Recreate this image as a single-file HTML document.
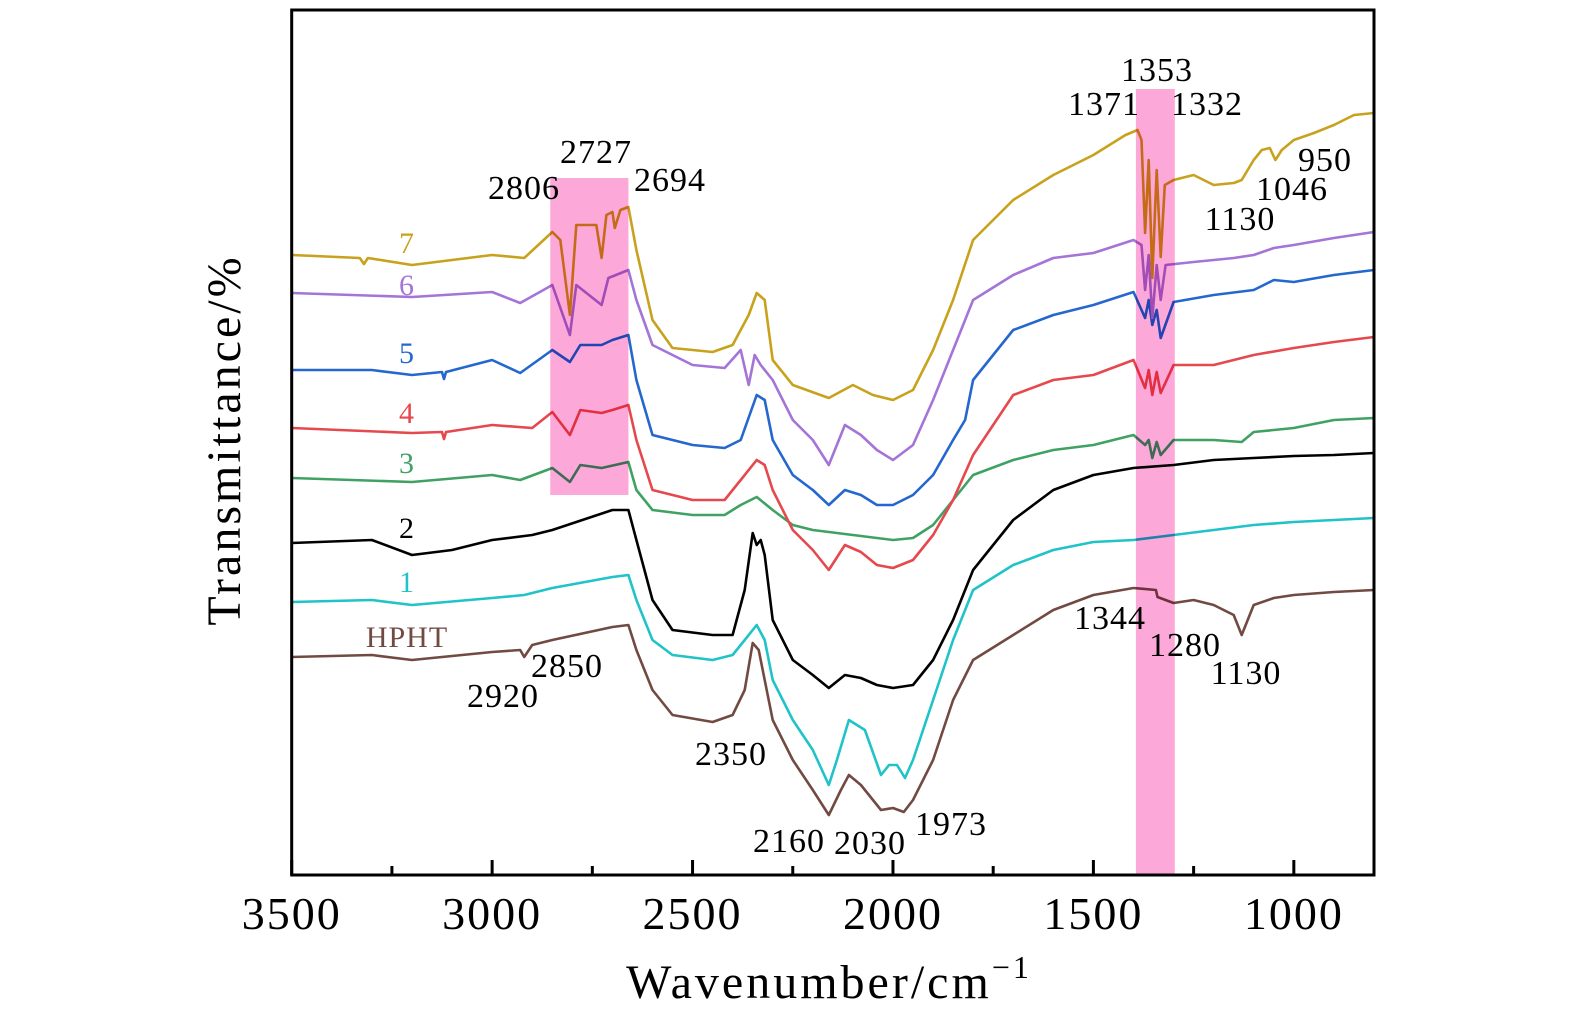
<!DOCTYPE html>
<html><head><meta charset="utf-8"><style>
html,body{margin:0;padding:0;background:#fff;}
svg{display:block;font-family:"Liberation Serif",serif;}
</style></head><body>
<svg id="chart" width="1575" height="1024" viewBox="0 0 1575 1024" xmlns="http://www.w3.org/2000/svg">
<g id="series"></g>
<g id="bands"></g>
<g id="axes"></g>
<g id="labels"></g>
</svg>
<script>
// wavenumber domain and vertical (offset transmittance, arbitrary units, larger = lower on plot)
const xDomain=[3500,800];
const yDomain=[10,875];
const xTicks=[3500,3000,2500,2000,1500,1000];
const xMinorTicks=[3250,2750,2250,1750,1250];
const bandRanges=[[2855,2660,178,495],[1394,1297,89,875]];

const w7=[3500,3330,3320,3310,3200,3000,2920,2850,2830,2806,2790,2740,2727,2715,2700,2694,2680,2660,2640,2600,2550,2450,2400,2360,2340,2320,2300,2250,2160,2100,2050,2000,1950,1900,1850,1800,1700,1600,1500,1420,1390,1380,1371,1362,1353,1342,1332,1322,1300,1250,1200,1150,1130,1100,1080,1060,1046,1030,1000,950,900,850,800];
const v7=[255,258,264,258,265,255,258,232,240,315,225,225,258,215,212,228,210,207,250,320,348,352,345,315,293,300,360,385,398,385,395,400,390,350,300,240,200,175,155,135,130,140,233,160,278,170,257,185,180,175,185,183,180,160,150,148,160,150,140,133,125,115,113];

const w6=[3500,3200,3000,2930,2850,2806,2790,2727,2710,2660,2640,2600,2500,2420,2380,2360,2345,2330,2300,2250,2200,2160,2120,2080,2040,2000,1950,1900,1850,1800,1700,1600,1500,1400,1380,1371,1362,1353,1342,1332,1320,1250,1150,1100,1050,1000,900,800];
const v6=[293,297,292,303,285,335,285,305,278,270,300,345,365,368,350,385,355,365,380,420,440,465,425,435,450,460,445,400,350,300,275,258,253,240,245,290,255,318,265,300,265,262,258,255,248,245,238,232];

const w5=[3500,3300,3200,3125,3120,3115,3000,2930,2850,2806,2780,2727,2700,2660,2640,2600,2500,2420,2380,2340,2320,2300,2250,2200,2160,2120,2080,2040,2000,1950,1900,1850,1820,1800,1700,1600,1500,1400,1371,1362,1353,1342,1332,1300,1200,1100,1050,1000,900,800];
const v5=[370,370,375,372,379,372,360,373,350,362,345,345,340,335,380,435,445,448,440,395,400,440,475,490,505,490,495,505,505,495,475,440,420,380,330,315,305,292,318,300,325,310,338,302,295,290,280,282,275,270];

const w4=[3500,3200,3125,3120,3115,3000,2900,2850,2806,2780,2727,2700,2660,2640,2600,2500,2420,2380,2340,2320,2300,2250,2200,2160,2120,2080,2040,2000,1950,1900,1850,1800,1700,1600,1500,1400,1371,1362,1353,1342,1332,1300,1200,1100,1000,900,800];
const v4=[428,433,432,439,432,425,428,412,435,410,413,410,405,440,490,500,500,480,460,465,490,530,550,570,545,552,565,568,560,535,500,455,395,380,375,360,388,370,395,372,393,365,365,355,348,342,337];

const w3=[3500,3200,3000,2930,2850,2806,2780,2727,2660,2640,2600,2500,2420,2380,2340,2300,2250,2200,2100,2000,1950,1900,1850,1800,1700,1600,1500,1400,1371,1362,1353,1342,1332,1300,1200,1130,1100,1000,900,800];
const v3=[478,482,475,480,468,482,465,468,462,490,510,515,515,505,497,510,525,530,535,540,538,525,500,475,460,450,445,435,445,440,458,442,455,440,440,442,432,428,420,418];

const w2=[3500,3300,3200,3100,3000,2900,2850,2700,2660,2640,2600,2550,2450,2400,2370,2350,2340,2330,2320,2300,2250,2200,2160,2120,2080,2040,2000,1950,1900,1850,1800,1700,1600,1500,1400,1300,1200,1100,1000,900,800];
const v2=[543,540,555,550,540,535,530,510,510,540,600,630,635,635,590,533,545,540,555,620,660,675,688,675,678,685,688,685,660,620,570,520,490,475,468,465,460,458,456,455,453];

const w1=[3500,3300,3200,3000,2920,2850,2700,2660,2640,2600,2550,2450,2400,2370,2340,2320,2300,2250,2200,2160,2140,2110,2070,2030,2010,1990,1970,1950,1900,1850,1800,1700,1600,1500,1400,1300,1200,1100,1000,900,800];
const v1=[602,600,605,598,595,588,577,575,600,640,655,660,655,640,625,640,680,720,750,785,760,720,730,775,765,765,778,760,700,640,590,565,550,542,540,535,530,525,522,520,518];

const wH=[3500,3300,3200,3000,2930,2920,2900,2850,2700,2660,2640,2600,2550,2450,2400,2370,2350,2335,2320,2300,2250,2200,2160,2130,2110,2080,2030,2000,1973,1950,1900,1850,1800,1700,1600,1500,1400,1344,1340,1300,1250,1200,1150,1130,1100,1050,1000,900,800];
const vH=[657,655,660,652,650,657,645,640,627,625,650,690,715,722,715,690,643,650,680,720,760,790,815,790,775,785,810,808,812,800,760,700,660,635,610,595,588,590,597,603,600,605,615,635,605,598,595,592,590];

const seriesList=[
 ["series-hpht",wH,vH,"#714a42"],["series-1",w1,v1,"#1fc3c8"],["series-2",w2,v2,"#000000"],
 ["series-3",w3,v3,"#3fa263"],["series-4",w4,v4,"#e5484d"],["series-5",w5,v5,"#2467cf"],
 ["series-6",w6,v6,"#a474d6"],["series-7",w7,v7,"#c8a21c"]];

const L=291.7,R=1374,T=10,B=875;
const xs=w=>L+(xDomain[0]-w)*(R-L)/(xDomain[0]-xDomain[1]);
const ys=v=>T+(v-yDomain[0])*(B-T)/(yDomain[1]-yDomain[0]);
const NS="http://www.w3.org/2000/svg";
function mk(tag,parent,attrs){const e=document.createElementNS(NS,tag);for(const k in attrs)e.setAttribute(k,attrs[k]);parent.appendChild(e);return e;}

const gS=document.getElementById('series');
seriesList.forEach(s=>{
 const pts=s[1].map((w,i)=>xs(w).toFixed(1)+","+ys(s[2][i]).toFixed(1)).join(" ");
 const p=mk('polyline',gS,{points:pts,fill:"none",stroke:s[3],"stroke-width":2.6,"stroke-linejoin":"round"});
 
 
});

const gB=document.getElementById('bands');
bandRanges.forEach((b,i)=>{
 const r=mk('rect',gB,{x:xs(b[0]),y:b[2],width:xs(b[1])-xs(b[0]),height:b[3]-b[2],fill:"#fca9da",style:"mix-blend-mode:multiply"});
 
 
});

const gA=document.getElementById('axes');
const frame=mk('rect',gA,{x:L,y:T,width:R-L,height:B-T,fill:"none",stroke:"#000","stroke-width":3});


xTicks.forEach(t=>{
 const l=mk('line',gA,{x1:xs(t),x2:xs(t),y1:B,y2:B-15,stroke:"#000","stroke-width":3});
 
 
 const tx=mk('text',gA,{x:xs(t),y:929,"text-anchor":"middle","font-size":46,"letter-spacing":"2"});
 tx.textContent=t;
 
 
});
xMinorTicks.forEach(t=>{
 const l=mk('line',gA,{x1:xs(t),x2:xs(t),y1:B,y2:B-9,stroke:"#000","stroke-width":3});
 
 
});
</script>
<svg style="position:absolute;left:0;top:0" width="1575" height="1024">
<g font-family="Liberation Serif, serif">
<text x="829" y="998" text-anchor="middle" font-size="48" letter-spacing="3">Wavenumber/cm<tspan font-size="32" dy="-20">−1</tspan></text>
<text transform="translate(240,440) rotate(-90)" text-anchor="middle" font-size="48" letter-spacing="3">Transmittance/%</text>
<g font-size="30" text-anchor="middle" letter-spacing="1">
<text x="407" y="253" fill="#c8a21c">7</text>
<text x="407" y="295" fill="#a474d6">6</text>
<text x="407" y="363" fill="#2467cf">5</text>
<text x="407" y="423" fill="#e5484d">4</text>
<text x="407" y="473" fill="#3fa263">3</text>
<text x="407" y="538" fill="#000">2</text>
<text x="407" y="592" fill="#1fc3c8">1</text>
<text x="407" y="647" fill="#714a42">HPHT</text>
</g>
<g font-size="34" text-anchor="middle" fill="#000" letter-spacing="1">
<text x="524" y="199">2806</text>
<text x="596" y="163">2727</text>
<text x="670" y="191">2694</text>
<text x="1157" y="81">1353</text>
<text x="1104" y="115">1371</text>
<text x="1207" y="115">1332</text>
<text x="1325" y="171">950</text>
<text x="1292" y="200">1046</text>
<text x="1240" y="230">1130</text>
<text x="567" y="677">2850</text>
<text x="503" y="707">2920</text>
<text x="731" y="765">2350</text>
<text x="789" y="852">2160</text>
<text x="870" y="854">2030</text>
<text x="951" y="835">1973</text>
<text x="1110" y="629">1344</text>
<text x="1185" y="656">1280</text>
<text x="1246" y="684">1130</text>
</g>
</g>
</svg>
</body></html>
